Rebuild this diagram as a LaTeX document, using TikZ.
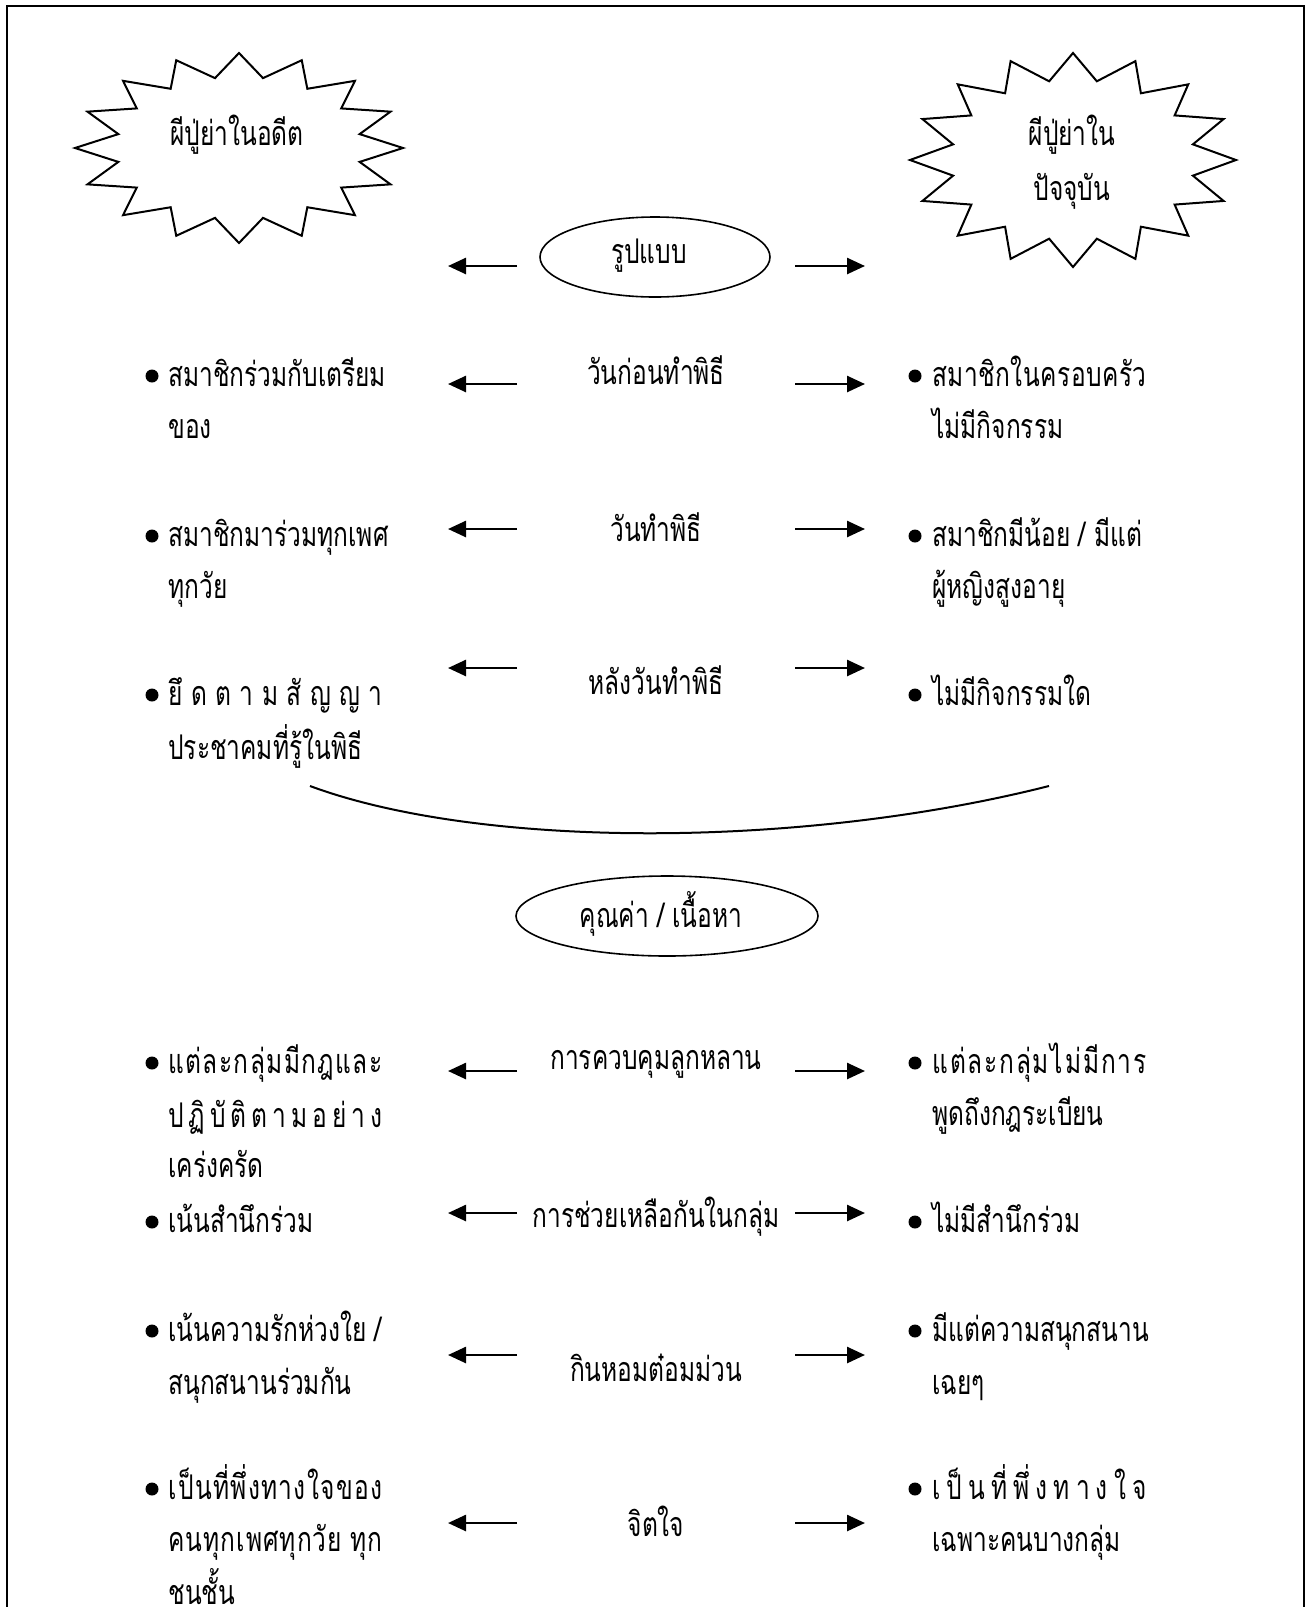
\documentclass[tikz,border=0pt]{standalone}
\usepackage{fontspec}
\setmainfont[Script=Thai,FakeStretch=0.72]{Loma}
\usetikzlibrary{arrows.meta}
\newcommand{\jfy}[1]{\makebox[107pt][l]{#1}}
\newcommand{\gp}{\hfill}
\begin{document}
\begin{tikzpicture}[x=0.5pt,y=-0.5pt,
  txt/.style={font=\fontsize{17}{20}\selectfont, inner sep=0pt, anchor=base},
  ltxt/.style={txt, anchor=base west},
  arr/.style={line width=1.3pt, -{Triangle[length=9pt,width=8pt]}},
  bul/.style={circle, fill, inner sep=0pt, minimum size=6.5pt},
  starln/.style={line width=1pt, line join=miter},
  ovl/.style={line width=0.8pt}]
\useasboundingbox (0,0) rectangle (1315,1607);
\clip (0,0) rectangle (1315,1607);
\draw[line width=1pt] (7,6) rectangle (1304,1660);
% stars
\draw[starln] plot[samples at={0,...,31}] ({239+(164-41*mod(\x,2))*cos(\x*11.25)},{148+(95-23.75*mod(\x,2))*sin(\x*11.25)}) -- cycle;
\draw[starln] plot[samples at={0,...,31}] ({1073+(163-40.75*mod(\x,2))*cos(\x*11.25)},{160+(107-26.75*mod(\x,2))*sin(\x*11.25)}) -- cycle;
\node[txt] (past) at (237,145) {ผีปู่ย่าในอดีต};
\node[txt] (now1) at (1072,145) {ผีปู่ย่าใน};
\node[txt] (now2) at (1072,200) {ปัจจุบัน};
% ellipses
\draw[ovl] (655,257) ellipse [x radius=57.5pt, y radius=20pt];
\node[txt] (form) at (649,263) {รูปแบบ};
\draw[ovl] (667,916) ellipse [x radius=75.5pt, y radius=20pt];
\node[txt] (value) at (661,927) {คุณค่า / เนื้อหา};
% curve
\coordinate (cs) at (310,786);
\coordinate (ce) at (1049,786);
\draw[line width=1pt] (cs) .. controls (480,849) and (800,849) .. (ce);
% center labels
\node[txt] (c1) at (656,384) {วันก่อนทำพิธี};
\node[txt] (c2) at (656,541) {วันทำพิธี};
\node[txt] (c3) at (656,694) {หลังวันทำพิธี};
\node[txt] (c4) at (656,1069) {การควบคุมลูกหลาน};
\node[txt] (c5) at (656,1227) {การช่วยเหลือกันในกลุ่ม};
\node[txt] (c6) at (656,1381) {กินหอมต๋อมม่วน};
\node[txt] (c7) at (656,1536) {จิตใจ};
% arrows
\foreach \n/\y in {0/266,1/384,2/529,3/668,4/1071,5/1213,6/1355,7/1523}{
  \coordinate (la\n s) at (517,\y); \coordinate (la\n e) at (448,\y);
  \coordinate (ra\n s) at (795,\y); \coordinate (ra\n e) at (865,\y);
  \draw[arr] (la\n s) -- (la\n e);
  \draw[arr] (ra\n s) -- (ra\n e);
}
% bullets
\foreach \y in {386,546,705,1073,1232,1341,1499}{\node[bul] at (152,\y-10) {};}
\foreach \y in {386,546,705,1073,1232,1341,1499}{\node[bul] at (915,\y-10) {};}
% left
\node[ltxt] (l1a) at (168,386) {สมาชิกร่วมกับเตรียม};
\node[ltxt] (l1b) at (168,438) {ของ};
\node[ltxt] (l2a) at (168,546) {สมาชิกมาร่วมทุกเพศ};
\node[ltxt] (l2b) at (168,598) {ทุกวัย};
\node[ltxt] (l3a) at (168,705) {\jfy{ยึ\gp ด\gp ต\gp า\gp ม\gp สั\gp ญ\gp ญ\gp า}};
\node[ltxt] (l3b) at (168,759) {ประชาคมที่รู้ในพิธี};
\node[ltxt] (l4a) at (168,1073) {\jfy{แ\gp ต่\gp ล\gp ะ\gp ก\gp ลุ่\gp ม\gp มี\gp ก\gp ฎ\gp แ\gp ล\gp ะ}};
\node[ltxt] (l4b) at (168,1127) {\jfy{ป\gp ฏิ\gp บั\gp ติ\gp ต\gp า\gp ม\gp อ\gp ย่\gp า\gp ง}};
\node[ltxt] (l4c) at (168,1177) {เคร่งครัด};
\node[ltxt] (l5) at (168,1232) {เน้นสำนึกร่วม};
\node[ltxt] (l6a) at (168,1341) {เน้นความรักห่วงใย /};
\node[ltxt] (l6b) at (168,1394) {สนุกสนานร่วมกัน};
\node[ltxt] (l7a) at (168,1499) {\jfy{เ\gp ป็\gp น\gp ที่\gp พึ่\gp ง\gp ท\gp า\gp ง\gp ใ\gp จ\gp ข\gp อ\gp ง}};
\node[ltxt] (l7b) at (168,1551) {\jfy{ค\gp น\gp ทุ\gp ก\gp เ\gp พ\gp ศ\gp ทุ\gp ก\gp วั\gp ย ทุ\gp ก}};
\node[ltxt] (l7c) at (168,1604) {ชนชั้น};
% right
\node[ltxt] (r1a) at (932,386) {\jfy{ส\gp ม\gp า\gp ชิ\gp ก\gp ใ\gp น\gp ค\gp ร\gp อ\gp บ\gp ค\gp รั\gp ว}};
\node[ltxt] (r1b) at (932,438) {ไม่มีกิจกรรม};
\node[ltxt] (r2a) at (932,546) {สมาชิกมีน้อย / มีแต่};
\node[ltxt] (r2b) at (932,598) {ผู้หญิงสูงอายุ};
\node[ltxt] (r3) at (932,705) {ไม่มีกิจกรรมใด};
\node[ltxt] (r4a) at (932,1073) {\jfy{แ\gp ต่\gp ล\gp ะ\gp ก\gp ลุ่\gp ม\gp ไ\gp ม่\gp มี\gp ก\gp า\gp ร}};
\node[ltxt] (r4b) at (932,1125) {พูดถึงกฎระเบียน};
\node[ltxt] (r5) at (932,1232) {ไม่มีสำนึกร่วม};
\node[ltxt] (r6a) at (932,1341) {มีแต่ความสนุกสนาน};
\node[ltxt] (r6b) at (932,1394) {เฉยๆ};
\node[ltxt] (r7a) at (932,1499) {\jfy{เ\gp ป็\gp น\gp ที่\gp พึ่\gp ง\gp ท\gp า\gp ง\gp ใ\gp จ}};
\node[ltxt] (r7b) at (932,1551) {เฉพาะคนบางกลุ่ม};
\end{tikzpicture}
\end{document}
